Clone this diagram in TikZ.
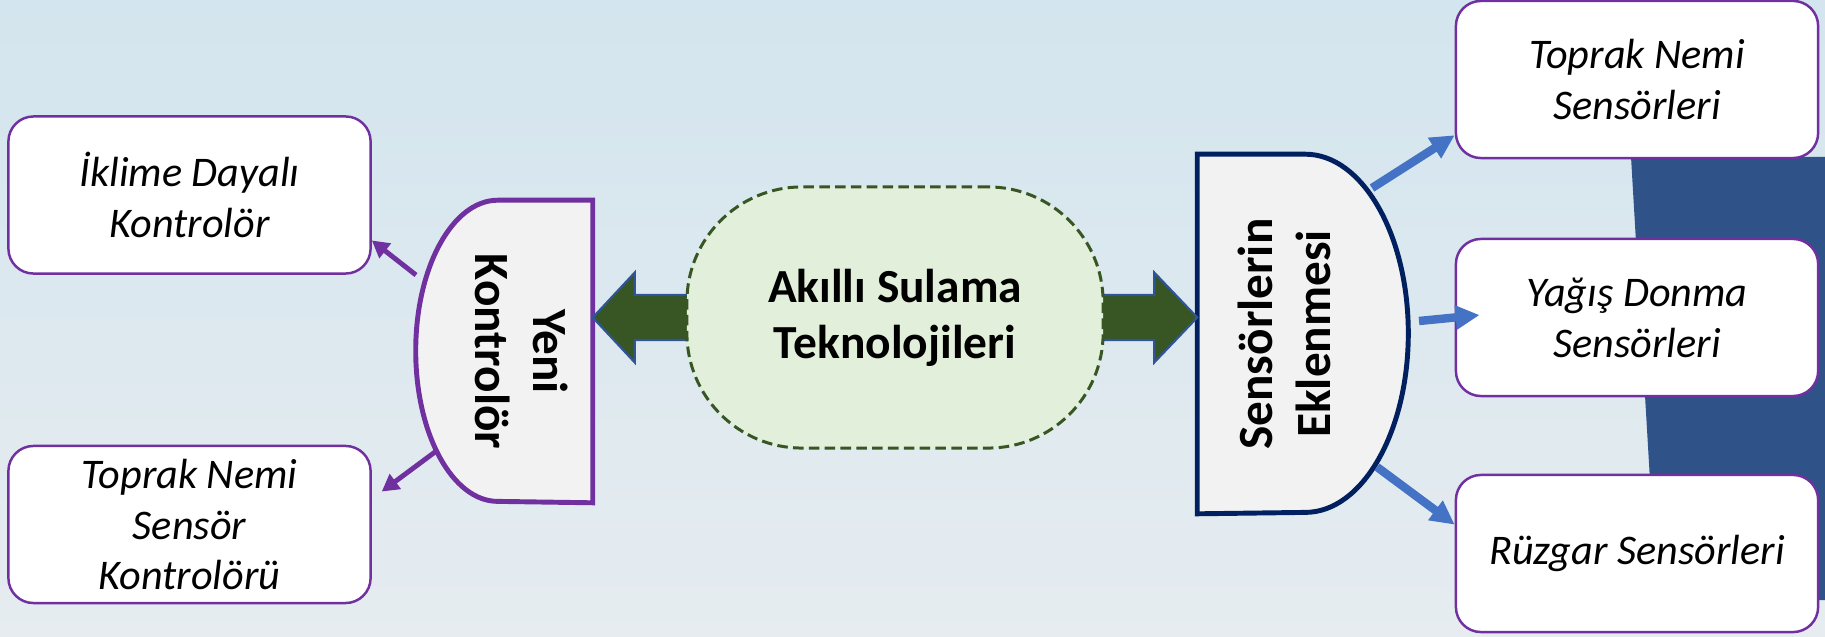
\documentclass[tikz,border=0pt]{standalone}
\usepackage{fontspec}
\setmainfont{Carlito}
\usetikzlibrary{arrows.meta,backgrounds}
\definecolor{kpurple}{HTML}{7030A0}
\definecolor{knavy}{HTML}{002060}
\definecolor{kblue}{HTML}{4472C4}
\definecolor{kgreen}{HTML}{375623}
\definecolor{kgreenfill}{HTML}{E2EFDA}
\definecolor{kgrey}{HTML}{F2F2F2}
\definecolor{kedge}{HTML}{2F5597}
\definecolor{bgtop}{HTML}{D3E5EE}
\definecolor{bgbot}{HTML}{E6ECF0}
\definecolor{bgdark}{HTML}{2F5288}

\begin{document}
\begin{tikzpicture}[x=0.01cm, y=0.01cm]

\tikzset{
    every node/.style={font=\fontsize{12}{14.5}\selectfont\itshape, align=center},
    leaf/.style={draw=kpurple, fill=white, line width=0.7pt, rounded corners=0.25cm, minimum width=3.62cm, minimum height=1.57cm, inner sep=0pt},
    hub/.style={font=\fontsize{13.5}{16}\selectfont\bfseries, draw=kgreen, fill=kgreenfill, dash pattern=on 3pt off 1.5pt, line width=0.85pt, rounded corners=1.15cm, minimum width=4.16cm, minimum height=2.61cm},
    branch/.style={font=\fontsize{14}{16.5}\selectfont\bfseries, inner sep=0pt},
    dshape/.style={fill=kgrey, line width=1.4pt},
    fat/.style={fill=kgreen, draw=kedge, line width=0.6pt},
    plink/.style={draw=kpurple, line width=1.4pt, -{Triangle[length=0.17cm, width=0.18cm]}},
    blink/.style={draw=kblue, line width=2.4pt, -{Triangle[length=0.24cm, width=0.23cm]}}
}

\useasboundingbox (0,0) rectangle (1825,636);
\begin{scope}[on background layer]
    \shade[top color=bgtop, bottom color=bgbot] (0,0) rectangle (1825,636);
    \fill[bgdark] (1631,479) -- (1657,36) -- (1825,36) -- (1825,479) -- cycle;
\end{scope}

% left side
\node[leaf] (CLIMATE) at (189.5,441) {İklime Dayalı\\Kontrolör};
\node[leaf] (SOILCTRL) at (189.5,111.5) {Toprak Nemi\\Sensör\\Kontrolörü};
\node[branch, minimum width=1.77cm, minimum height=3.01cm] (NEWCTRL) at (503.5,284.5)
    {\hspace{0.26cm}\rotatebox{-90}{\begin{tabular}{@{}c@{}}Yeni\\Kontrolör\end{tabular}}};

% centre
\node[hub] (TECH) at (895,318.5) {Akıllı Sulama\\Teknolojileri};

% right side
\node[branch, minimum width=2.11cm, minimum height=3.58cm] (SENSORS) at (1303.5,302)
    {\rotatebox{90}{\begin{tabular}{@{}c@{}}Sensörlerin\\Eklenmesi\end{tabular}}\hspace{0.28cm}};
\node[leaf] (SOIL) at (1637,556.5) {Toprak Nemi\\Sensörleri};
\node[leaf] (RAIN) at (1637,318.5) {Yağış Donma\\Sensörleri};
\node[leaf] (WIND) at (1637,82.5) {Rüzgar Sensörleri};

\begin{scope}[on background layer]
    \draw[dshape, draw=kpurple] (NEWCTRL.north east) -- ++(-95,0)
        arc[start angle=90, end angle=270, x radius=0.82cm, y radius=1.505cm] -- (NEWCTRL.south east) -- cycle;
    \draw[dshape, draw=knavy] (SENSORS.north west) -- ++(108,0)
        arc[start angle=90, end angle=-90, x radius=1.03cm, y radius=1.79cm] -- (SENSORS.south west) -- cycle;
    \draw[fat] (NEWCTRL.east |- TECH.west) -- ++(42,45) -- ++(0,-22.5) -- ++(90,0) -- ++(0,-45)
        -- ++(-90,0) -- ++(0,-22.5) -- cycle;
    \draw[fat] (SENSORS.west |- TECH.east) -- ++(-43,45) -- ++(0,-22.5) -- ++(-90,0) -- ++(0,-45)
        -- ++(90,0) -- ++(0,-22.5) -- cycle;
\end{scope}

\coordinate (new top) at (416,361);
\coordinate (new bot) at (435,184);
\coordinate (sens top) at (1372,448);
\coordinate (sens mid) at (1419,315);
\coordinate (sens bot) at (1377,169);

\draw[plink] (new top) -- (CLIMATE.-14);
\draw[plink, shorten >=3.5pt] (new bot) -- (SOILCTRL.8);
\draw[blink] (sens top) -- (SOIL.197);
\draw[blink, shorten >=-0.25cm] (sens mid) -- (RAIN.west);
\draw[blink] (sens bot) -- (WIND.171);

\end{tikzpicture}
\end{document}
